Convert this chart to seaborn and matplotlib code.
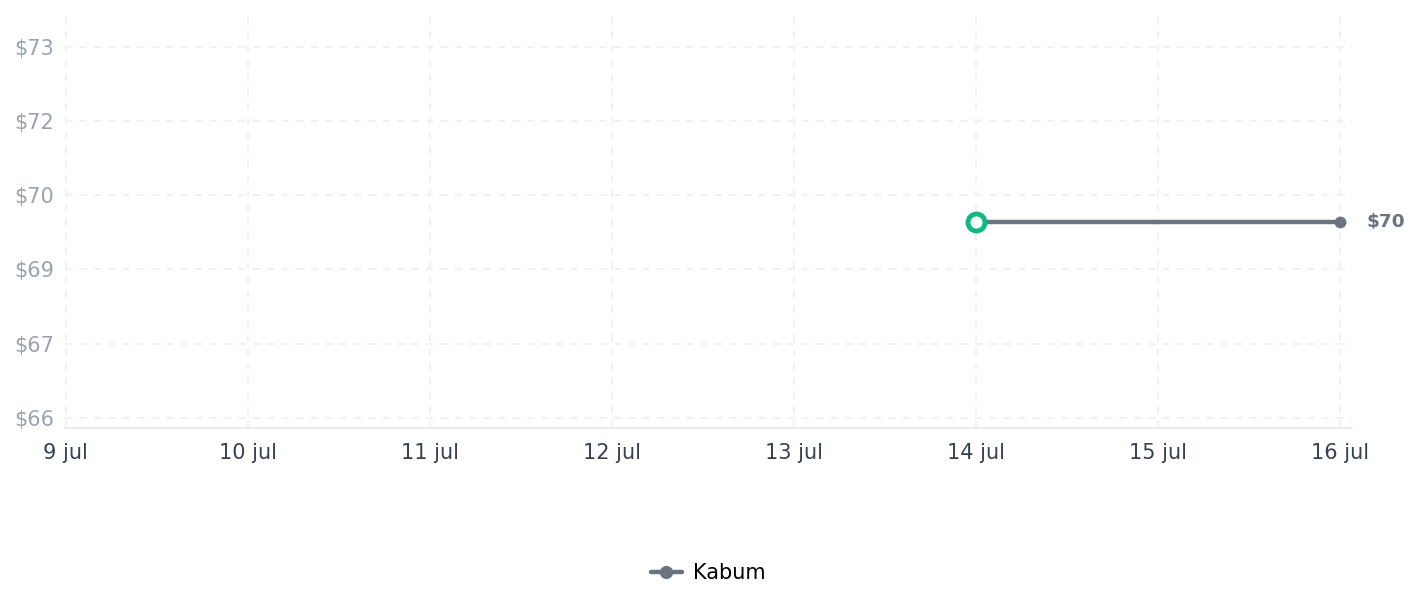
import matplotlib
matplotlib.use("Agg")
import matplotlib.pyplot as plt
import seaborn as sns
import pandas as pd
import numpy as np

# Data
series_name = "Kabum"
dates = ["2024-07-14", "2024-07-16"]
prices = [69.70, 69.70]
tick_dates = ["2024-07-09", "2024-07-10", "2024-07-11", "2024-07-12",
              "2024-07-13", "2024-07-14", "2024-07-15", "2024-07-16"]
tick_labels = ["9 jul", "10 jul", "11 jul", "12 jul", "13 jul", "14 jul", "15 jul", "16 jul"]
y_ticks = [66.0, 67.4, 68.8, 70.2, 71.6, 73.0]
last_label = "$70"

sns.set_theme(style="white")
plt.rcParams['font.family'] = ['DejaVu Sans']

df = pd.DataFrame({"date": pd.to_datetime(dates), "price": prices, "store": series_name})

fig = plt.figure(figsize=(14.21, 6.07), dpi=100)
ax = fig.add_axes([0.0457, 0.2949, 0.9057, 0.6804])

line_color = "#6b7280"
sns.lineplot(data=df, x="date", y="price", hue="store", palette=[line_color],
             linewidth=3.2, marker="o", markersize=8.5, markeredgewidth=0, ax=ax,
             legend=True)

# first point highlight
ax.scatter(df["date"].iloc[:1], df["price"].iloc[:1], s=150, facecolor="white",
           edgecolor="#10b981", linewidth=3.5, zorder=5)

ax.annotate(last_label, xy=(df["date"].iloc[-1], df["price"].iloc[-1]),
            xytext=(19, 0), textcoords="offset points", ha="left", va="center",
            fontsize=13.3, fontweight="bold", color=line_color)

tdates = pd.to_datetime(tick_dates)
ax.set_xticks(tdates)
ax.set_xticklabels(tick_labels)
ax.set_xlim(tdates[0] - pd.Timedelta(hours=0.1), tdates[-1] + pd.Timedelta(hours=1.6))
ax.set_yticks(y_ticks)
ax.set_yticklabels([f"${v:.0f}" for v in y_ticks])
ax.set_ylim(65.81, 73.6)

ax.tick_params(axis="x", colors="#374151", labelsize=15, length=0, pad=10.5)
ax.tick_params(axis="y", colors="#9ca3af", labelsize=15, length=0, pad=8)
for lbl in ax.get_xticklabels():
    lbl.set_color("#374151")
for lbl in ax.get_yticklabels():
    lbl.set_color("#9ca3af")

ax.grid(True, color="#f0f0f0", linestyle=(0, (4, 4)), linewidth=1.3)
for s in ["top", "right", "left"]:
    ax.spines[s].set_visible(False)
ax.spines["bottom"].set_color("#e5e7eb")
ax.spines["bottom"].set_linewidth(1.2)

ax.set_xlabel("")
ax.set_ylabel("")

leg = ax.legend(loc="center", bbox_to_anchor=((708/1421 - 0.0457) / 0.9057, (1 - 573/607 - 0.2949) / 0.6804),
                frameon=False, fontsize=15, handlelength=1.5, handletextpad=0.5)
for t in leg.get_texts():
    t.set_color("black")
for h in leg.legend_handles:
    h.set_linewidth(3.2)
    h.set_markersize(9.5)

fig.savefig("out.png", dpi=100, facecolor="white")
